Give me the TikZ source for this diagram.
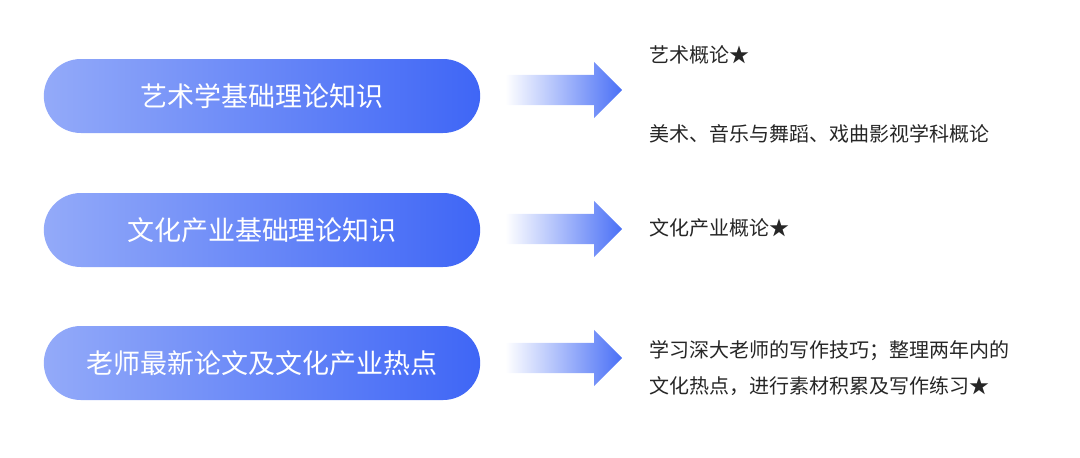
\documentclass[tikz,border=0pt]{standalone}
\usepackage{fontspec}
\setmainfont{Noto Sans CJK SC}
\usetikzlibrary{shapes.misc,shapes.arrows,positioning}
\definecolor{pillL}{HTML}{93AAF9}
\definecolor{pillR}{HTML}{3F66F6}
\definecolor{arrR}{HTML}{4A70F6}
\tikzset{
  pill/.style={rounded rectangle,minimum width=443pt,minimum height=74pt,left color=pillL,right color=pillR,draw=none,text=white,font=\fontsize{27}{30}\selectfont},
  fadearrow/.style={single arrow,minimum height=117pt,minimum width=56pt,single arrow head extend=13pt,single arrow head indent=0pt,inner xsep=0pt,inner ysep=15pt,left color=white,right color=arrR,draw=none,anchor=west},
  note/.style={anchor=west,text=black!85,font=\fontsize{20}{36}\selectfont,align=left}
}
\begin{document}
\begin{tikzpicture}[x=1pt,y=-1pt]
\useasboundingbox (0,0) rectangle (1080,458);
% left column
\node[pill] (art) at (262,96) {艺术学基础理论知识};
\node[pill] (ind) at (262,230) {文化产业基础理论知识};
\node[pill] (hot) at (262,363) {老师最新论文及文化产业热点};
% arrows
\node[fadearrow] (a1) at (505,90) {};
\node[fadearrow] (a2) at (505,229) {};
\node[fadearrow] (a3) at (505,358) {};
% right column
\node[note] (t1) at (646,55) {艺术概论★};
\node[note] (t2) at (646,134) {美术、音乐与舞蹈、戏曲影视学科概论};
\node[note] (t3) at (646,228) {文化产业概论★};
\node[note] (t4) at (646,368) {学习深大老师的写作技巧；整理两年内的\\文化热点，进行素材积累及写作练习★};
\end{tikzpicture}
\end{document}
